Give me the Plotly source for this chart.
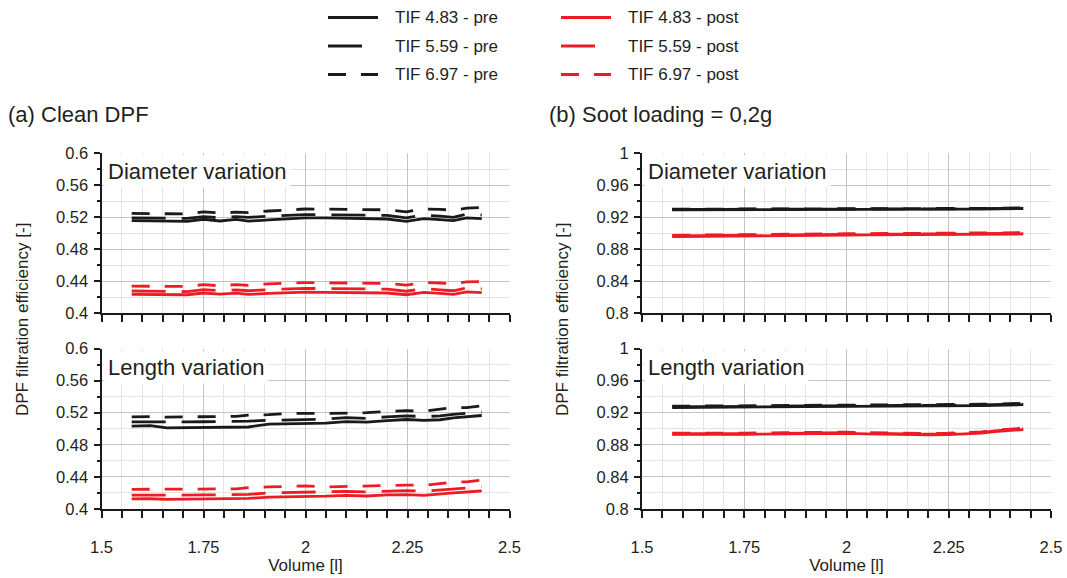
import plotly.graph_objects as go

# ---- data -------------------------------------------------------------
volume = [1.574, 1.62, 1.66, 1.71, 1.75, 1.79, 1.83, 1.86, 1.91, 1.96, 2.0,
          2.05, 2.1, 2.15, 2.2, 2.247, 2.29, 2.33, 2.362, 2.395, 2.432]

# (a) clean DPF, diameter variation
clean_diam_pre_483 = [0.5155, 0.5152, 0.5150, 0.5145, 0.5172, 0.5150, 0.5170, 0.5148, 0.5165, 0.5180, 0.5190,
                      0.5188, 0.5185, 0.5180, 0.5175, 0.5145, 0.5180, 0.5168, 0.5155, 0.5190, 0.5180]
clean_diam_pre_559 = [0.5190, 0.5188, 0.5185, 0.5182, 0.5205, 0.5190, 0.5205, 0.5195, 0.5210, 0.5222, 0.5230,
                      0.5228, 0.5228, 0.5225, 0.5220, 0.5190, 0.5225, 0.5210, 0.5195, 0.5235, 0.5225]
clean_diam_pre_697 = [0.5245, 0.5243, 0.5240, 0.5238, 0.5265, 0.5250, 0.5260, 0.5255, 0.5275, 0.5290, 0.5300,
                      0.5298, 0.5298, 0.5295, 0.5290, 0.5265, 0.5300, 0.5295, 0.5285, 0.5310, 0.5320]
clean_diam_post_483 = [0.4233, 0.4232, 0.4230, 0.4228, 0.4250, 0.4235, 0.4248, 0.4232, 0.4245, 0.4255, 0.4260,
                       0.4258, 0.4256, 0.4255, 0.4250, 0.4228, 0.4258, 0.4245, 0.4232, 0.4265, 0.4255]
clean_diam_post_559 = [0.4275, 0.4273, 0.4270, 0.4268, 0.4292, 0.4278, 0.4290, 0.4278, 0.4292, 0.4302, 0.4308,
                       0.4305, 0.4305, 0.4302, 0.4298, 0.4272, 0.4305, 0.4290, 0.4278, 0.4312, 0.4302]
clean_diam_post_697 = [0.4335, 0.4335, 0.4335, 0.4333, 0.4355, 0.4340, 0.4355, 0.4345, 0.4365, 0.4375, 0.4380,
                       0.4378, 0.4378, 0.4376, 0.4370, 0.4348, 0.4380, 0.4375, 0.4365, 0.4390, 0.4392]

# (a) clean DPF, length variation
clean_len_pre_483 = [0.5033, 0.5040, 0.5012, 0.5013, 0.5015, 0.5016, 0.5018, 0.5022, 0.5058, 0.5062, 0.5065,
                     0.5070, 0.5090, 0.5082, 0.5102, 0.5115, 0.5105, 0.5112, 0.5135, 0.5150, 0.5165]
clean_len_pre_559 = [0.5085, 0.5088, 0.5085, 0.5085, 0.5087, 0.5088, 0.5090, 0.5095, 0.5105, 0.5110, 0.5112,
                     0.5120, 0.5138, 0.5130, 0.5148, 0.5160, 0.5152, 0.5160, 0.5180, 0.5195, 0.5210]
clean_len_pre_697 = [0.5148, 0.5152, 0.5145, 0.5148, 0.5150, 0.5152, 0.5155, 0.5170, 0.5175, 0.5190, 0.5195,
                     0.5192, 0.5195, 0.5200, 0.5215, 0.5225, 0.5220, 0.5245, 0.5265, 0.5262, 0.5285]
clean_len_post_483 = [0.4125, 0.4128, 0.4120, 0.4122, 0.4125, 0.4126, 0.4128, 0.4132, 0.4148, 0.4150, 0.4155,
                      0.4160, 0.4170, 0.4162, 0.4175, 0.4180, 0.4170, 0.4182, 0.4200, 0.4212, 0.4225]
clean_len_post_559 = [0.4172, 0.4175, 0.4170, 0.4172, 0.4175, 0.4176, 0.4178, 0.4182, 0.4200, 0.4205, 0.4208,
                      0.4210, 0.4220, 0.4212, 0.4222, 0.4230, 0.4222, 0.4235, 0.4252, 0.4262, 0.4278]
clean_len_post_697 = [0.4245, 0.4248, 0.4242, 0.4245, 0.4248, 0.4250, 0.4252, 0.4265, 0.4275, 0.4282, 0.4288,
                      0.4275, 0.4282, 0.4285, 0.4292, 0.4298, 0.4295, 0.4315, 0.4335, 0.4338, 0.4360]

# (b) soot loading 0,2 g, diameter variation
soot_diam_pre_483 = [0.9290, 0.9290, 0.9291, 0.9292, 0.9293, 0.9294, 0.9295, 0.9295, 0.9296, 0.9297, 0.9298,
                     0.9298, 0.9298, 0.9299, 0.9299, 0.9298, 0.9299, 0.9300, 0.9300, 0.9305, 0.9306]
soot_diam_pre_559 = [0.9294, 0.9294, 0.9295, 0.9296, 0.9297, 0.9298, 0.9299, 0.9299, 0.9300, 0.9301, 0.9302,
                     0.9302, 0.9302, 0.9303, 0.9303, 0.9302, 0.9303, 0.9304, 0.9304, 0.9309, 0.9310]
soot_diam_pre_697 = [0.9298, 0.9298, 0.9299, 0.9300, 0.9301, 0.9302, 0.9303, 0.9303, 0.9304, 0.9305, 0.9306,
                     0.9306, 0.9306, 0.9307, 0.9307, 0.9306, 0.9307, 0.9308, 0.9308, 0.9313, 0.9314]
soot_diam_post_483 = [0.8955, 0.8958, 0.8960, 0.8962, 0.8965, 0.8967, 0.8968, 0.8970, 0.8972, 0.8974, 0.8975,
                      0.8976, 0.8977, 0.8977, 0.8978, 0.8977, 0.8978, 0.8979, 0.8980, 0.8985, 0.8988]
soot_diam_post_559 = [0.8963, 0.8966, 0.8968, 0.8970, 0.8973, 0.8975, 0.8976, 0.8978, 0.8980, 0.8982, 0.8983,
                      0.8984, 0.8985, 0.8985, 0.8986, 0.8985, 0.8986, 0.8987, 0.8988, 0.8993, 0.8996]
soot_diam_post_697 = [0.8971, 0.8974, 0.8976, 0.8978, 0.8981, 0.8983, 0.8984, 0.8986, 0.8988, 0.8990, 0.8991,
                      0.8992, 0.8993, 0.8993, 0.8994, 0.8993, 0.8994, 0.8995, 0.8996, 0.9001, 0.9004]

# (b) soot loading 0,2 g, length variation
soot_len_pre_483 = [0.9265, 0.9266, 0.9267, 0.9268, 0.9270, 0.9271, 0.9272, 0.9273, 0.9275, 0.9276, 0.9277,
                    0.9278, 0.9279, 0.9280, 0.9282, 0.9284, 0.9286, 0.9289, 0.9293, 0.9297, 0.9300]
soot_len_pre_559 = [0.9273, 0.9274, 0.9275, 0.9276, 0.9278, 0.9279, 0.9280, 0.9281, 0.9283, 0.9284, 0.9285,
                    0.9286, 0.9287, 0.9288, 0.9290, 0.9292, 0.9294, 0.9297, 0.9301, 0.9305, 0.9308]
soot_len_pre_697 = [0.9281, 0.9282, 0.9283, 0.9284, 0.9286, 0.9287, 0.9288, 0.9289, 0.9291, 0.9292, 0.9293,
                    0.9294, 0.9295, 0.9296, 0.9298, 0.9300, 0.9302, 0.9305, 0.9309, 0.9313, 0.9316]
soot_len_post_483 = [0.8930, 0.8928, 0.8927, 0.8928, 0.8930, 0.8932, 0.8935, 0.8938, 0.8940, 0.8942, 0.8942,
                     0.8935, 0.8930, 0.8925, 0.8925, 0.8928, 0.8935, 0.8945, 0.8965, 0.8978, 0.8990]
soot_len_post_559 = [0.8938, 0.8936, 0.8935, 0.8936, 0.8938, 0.8940, 0.8943, 0.8946, 0.8948, 0.8950, 0.8950,
                     0.8943, 0.8938, 0.8933, 0.8933, 0.8936, 0.8943, 0.8953, 0.8973, 0.8986, 0.8998]
soot_len_post_697 = [0.8946, 0.8944, 0.8943, 0.8944, 0.8946, 0.8948, 0.8951, 0.8954, 0.8956, 0.8958, 0.8958,
                     0.8951, 0.8946, 0.8941, 0.8941, 0.8944, 0.8951, 0.8961, 0.8981, 0.8994, 0.9006]

series_names = ["TIF 4.83 - pre", "TIF 5.59 - pre", "TIF 6.97 - pre",
                "TIF 4.83 - post", "TIF 5.59 - post", "TIF 6.97 - post"]

x_tick_vals = [1.5, 1.75, 2.0, 2.25, 2.5]
x_tick_text = ["1.5", "1.75", "2", "2.25", "2.5"]
clean_y_vals = [0.4, 0.44, 0.48, 0.52, 0.56, 0.6]
clean_y_text = ["0.4", "0.44", "0.48", "0.52", "0.56", "0.6"]
soot_y_vals = [0.8, 0.84, 0.88, 0.92, 0.96, 1.0]
soot_y_text = ["0.8", "0.84", "0.88", "0.92", "0.96", "1"]

# ---- styling ----------------------------------------------------------
W, H = 1067, 578
FONT = "Liberation Sans, Arial, Helvetica, sans-serif"
TXT = "#231f20"
BLACK = "#1a1a1a"
RED = "#ed1c24"
LW = 2.8
DASH_SOLID = "solid"
DASH_LONG = "34px,16px"
DASH_SHORT = "18px,15px"
styles = [(BLACK, DASH_SOLID), (BLACK, DASH_LONG), (BLACK, DASH_SHORT),
          (RED, DASH_SOLID), (RED, DASH_LONG), (RED, DASH_SHORT)]


def px(v):
    return v / W


def py(v):
    return 1 - v / H


panels = [
    # (xaxis, yaxis, data, label)
    ("x", "y", [clean_diam_pre_483, clean_diam_pre_559, clean_diam_pre_697,
                clean_diam_post_483, clean_diam_post_559, clean_diam_post_697], "Diameter variation"),
    ("x2", "y2", [soot_diam_pre_483, soot_diam_pre_559, soot_diam_pre_697,
                  soot_diam_post_483, soot_diam_post_559, soot_diam_post_697], "Diameter variation"),
    ("x3", "y3", [clean_len_pre_483, clean_len_pre_559, clean_len_pre_697,
                  clean_len_post_483, clean_len_post_559, clean_len_post_697], "Length variation"),
    ("x4", "y4", [soot_len_pre_483, soot_len_pre_559, soot_len_pre_697,
                  soot_len_post_483, soot_len_post_559, soot_len_post_697], "Length variation"),
]

fig = go.Figure()
for xa, ya, data, _ in panels:
    # draw post (red) first so the pre curves stay on top where they meet
    for i in [5, 4, 3, 2, 1, 0]:
        color, dash = styles[i]
        fig.add_trace(go.Scatter(
            x=volume, y=data[i], mode="lines", name=series_names[i],
            xaxis=xa, yaxis=ya, showlegend=False,
            line=dict(color=color, width=LW, dash=dash),
        ))

left_dom = [px(101.5), px(509.5)]
right_dom = [px(642), px(1051)]
top_dom = [py(313), py(153)]
bot_dom = [py(509), py(348.5)]


def xaxis_cfg(domain, anchor, labels):
    return dict(
        domain=domain, anchor=anchor, range=[1.5, 2.5], automargin=False,
        tickmode="array", tickvals=x_tick_vals, ticktext=x_tick_text,
        showticklabels=labels, ticks="outside", ticklen=7, tickwidth=2, tickcolor=BLACK,
        showline=True, linecolor=BLACK, linewidth=2,
        showgrid=True, gridcolor="#c4c4c4", gridwidth=1, zeroline=False,
        minor=dict(dtick=0.05, tick0=1.5, showgrid=True, gridcolor="#e3e3e3", gridwidth=1,
                   ticks="outside", ticklen=7, tickwidth=2, tickcolor=BLACK),
        tickfont=dict(family=FONT, size=16.5, color=TXT), ticklabelstandoff=15,
        title=dict(text="Volume [l]" if labels else "", font=dict(family=FONT, size=17, color=TXT),
                   standoff=2),
    )


def yaxis_cfg(domain, anchor, rng, vals, text):
    return dict(
        domain=domain, anchor=anchor, range=rng, automargin=False,
        tickmode="array", tickvals=vals, ticktext=text,
        ticks="outside", ticklen=6, tickwidth=2, tickcolor=BLACK,
        showline=True, linecolor=BLACK, linewidth=2,
        showgrid=True, gridcolor="#c4c4c4", gridwidth=1, zeroline=False,
        minor=dict(dtick=0.02, tick0=rng[0], showgrid=True, gridcolor="#e3e3e3", gridwidth=1,
                   ticks="outside", ticklen=3, tickwidth=2, tickcolor=BLACK),
        tickfont=dict(family=FONT, size=16.5, color=TXT), ticklabelstandoff=2,
    )


fig.update_layout(
    width=W, height=H, autosize=False,
    margin=dict(l=0, r=0, t=0, b=0, autoexpand=False),
    paper_bgcolor="white", plot_bgcolor="white",
    font=dict(family=FONT, color=TXT),
    xaxis=xaxis_cfg(left_dom, "y", False),
    xaxis2=xaxis_cfg(right_dom, "y2", False),
    xaxis3=xaxis_cfg(left_dom, "y3", True),
    xaxis4=xaxis_cfg(right_dom, "y4", True),
    yaxis=yaxis_cfg(top_dom, "x", [0.4, 0.6], clean_y_vals, clean_y_text),
    yaxis2=yaxis_cfg(top_dom, "x2", [0.8, 1.0], soot_y_vals, soot_y_text),
    yaxis3=yaxis_cfg(bot_dom, "x3", [0.4, 0.6], clean_y_vals, clean_y_text),
    yaxis4=yaxis_cfg(bot_dom, "x4", [0.8, 1.0], soot_y_vals, soot_y_text),
)

annotations = []
# panel labels with white boxes
for xa, ya, _, label in panels:
    annotations.append(dict(
        text=label, xref=f"{xa} domain", yref=f"{ya} domain",
        x=0.005, y=0.985, xanchor="left", yanchor="top", showarrow=False,
        bgcolor="white", borderpad=3,
        font=dict(family=FONT, size=22, color=TXT),
    ))

# section titles
annotations.append(dict(text="(a) Clean DPF", xref="paper", yref="paper", x=px(6), y=py(114),
                        xanchor="left", yanchor="middle", showarrow=False,
                        font=dict(family=FONT, size=22, color=TXT)))
annotations.append(dict(text="(b) Soot loading = 0,2g", xref="paper", yref="paper", x=px(547), y=py(114),
                        xanchor="left", yanchor="middle", showarrow=False,
                        font=dict(family=FONT, size=22, color=TXT)))

# y-axis titles
for xc in (22, 562):
    annotations.append(dict(text="DPF filtration efficiency [-]", xref="paper", yref="paper",
                            x=px(xc), y=py(320), xanchor="center", yanchor="middle",
                            textangle=-90, showarrow=False,
                            font=dict(family=FONT, size=17, color=TXT)))

# legend: two columns of three entries
shapes = []
legend_rows = [17.5, 46, 74.5]
legend_cols = [(328, 378, 393), (561, 611, 626)]
for k in range(6):
    col = legend_cols[k // 3]
    row = legend_rows[k % 3]
    color, dash = styles[k]
    shapes.append(dict(type="line", xref="paper", yref="paper",
                       x0=px(col[0]), x1=px(col[1]), y0=py(row), y1=py(row),
                       line=dict(color=color, width=LW, dash=dash)))
    annotations.append(dict(text=series_names[k], xref="paper", yref="paper",
                            x=px(col[2]), y=py(row), xanchor="left", yanchor="middle",
                            showarrow=False, font=dict(family=FONT, size=17, color=TXT)))

fig.update_layout(annotations=annotations, shapes=shapes)

fig.write_html("out.html")
